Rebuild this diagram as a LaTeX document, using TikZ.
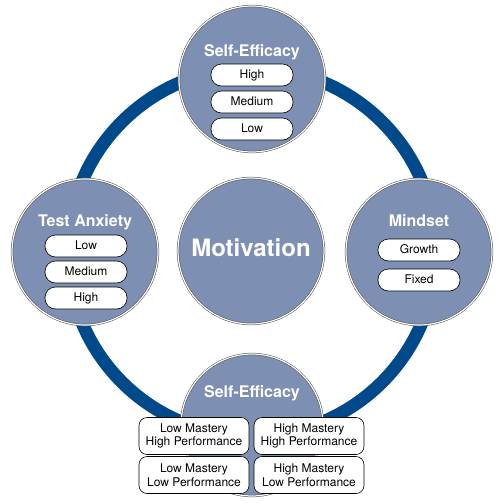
\documentclass[tikz,border=0pt]{standalone}
\usepackage{fontspec}
\setmainfont{TeX Gyre Heros}
\definecolor{ringblue}{HTML}{004A8C}
\definecolor{slate}{HTML}{7D8FB3}
\begin{document}
\begin{tikzpicture}[x=1pt, y=-1pt,
  topic/.style={circle, fill=slate, draw=black!70, double=white, double distance=1.2pt, line width=0.5pt, minimum size=146pt, inner sep=0pt},
  title/.style={anchor=base, text=white, font=\bfseries\fontsize{16}{19}\selectfont},
  pill/.style={draw, fill=white, line width=0.6pt, rounded corners=10.5pt, minimum width=82pt, minimum height=22pt, inner sep=0pt, text height=8.5pt, text depth=2.5pt, font=\fontsize{12}{14}\selectfont},
  cell/.style={draw, fill=white, line width=0.6pt, rounded corners=8pt, minimum width=110pt, minimum height=37pt, inner sep=0pt, align=center, font=\fontsize{12}{13.5}\selectfont},
  ring/.style={draw=ringblue, line width=13pt}]

\useasboundingbox (0,0) rectangle (504,504);

% Ring
\coordinate (hub) at (252,252);
\draw[ring] (hub) circle[radius=184pt];

% Circles
\node[topic] (efficacytop) at (252,79) {};
\node[topic] (anxiety) at (85,252) {};
\node[topic] (motivation) at (251,251) {};
\node[topic] (mindset) at (419,252) {};
\node[topic, minimum size=142pt] (efficacybot) at (252,425) {};

% Titles
\node[title] (efficacytoptitle) at (252,56) {Self-Efficacy};
\node[title] (anxietytitle) at (85,226) {Test Anxiety};
\node[title, font=\bfseries\fontsize{24}{28}\selectfont] (motivationtitle) at (251,256) {Motivation};
\node[title] (mindsettitle) at (419,226) {Mindset};
\node[title] (efficacybottitle) at (252,397) {Self-Efficacy};

% Levels
\node[pill] (efhigh) at (252,75) {High};
\node[pill] (efmed) at (252,102) {Medium};
\node[pill] (eflow) at (252,129) {Low};

\node[pill] (anlow) at (86,246) {Low};
\node[pill] (anmed) at (86,272) {Medium};
\node[pill] (anhigh) at (86,298) {High};

\node[pill] (growth) at (419,250) {Growth};
\node[pill] (fixed) at (419,280) {Fixed};

\node[cell] (lmhp) at (194,436) {Low Mastery\\High Performance};
\node[cell] (hmhp) at (309,436) {High Mastery\\High Performance};
\node[cell] (lmlp) at (194,475) {Low Mastery\\Low Performance};
\node[cell] (hmlp) at (309,475) {High Mastery\\Low Performance};

\end{tikzpicture}
\end{document}
